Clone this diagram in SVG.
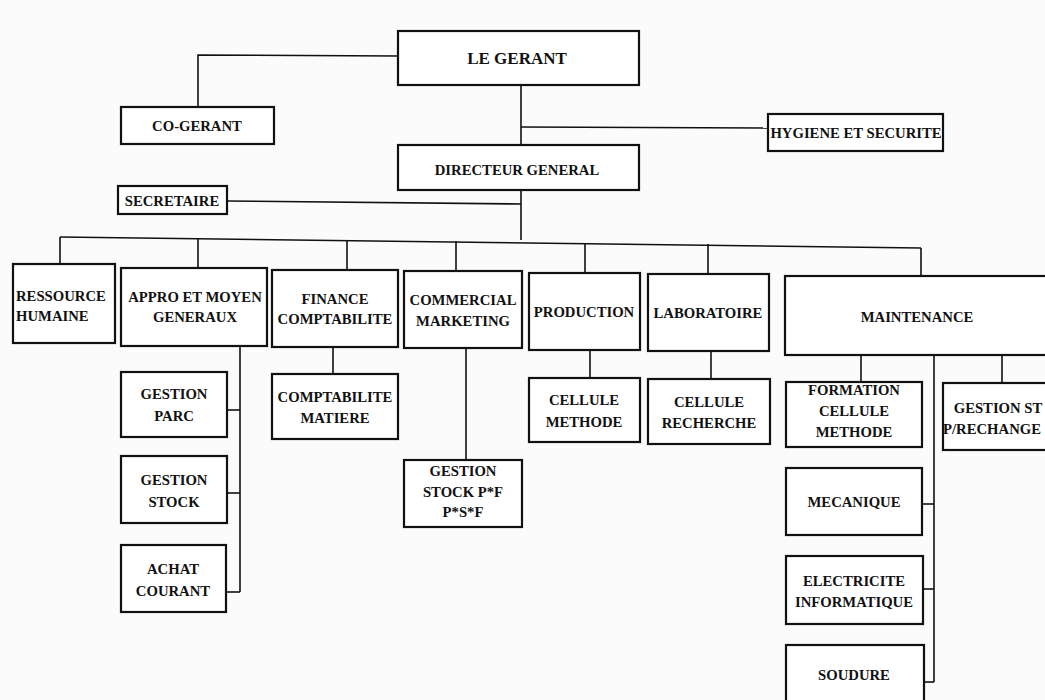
<svg xmlns="http://www.w3.org/2000/svg" width="1045" height="700" viewBox="0 0 1045 700">
  <style>
    .box { fill: #ffffff; stroke: #111; stroke-width: 2.2; }
    .lbl { font-family: "Liberation Serif", "Times New Roman", serif; font-weight: bold; font-size: 14.7px; fill: #111; text-anchor: middle; }
    .left { text-anchor: start; }
    .big { font-size: 17px; }
    .wire { fill: none; stroke: #111; stroke-width: 1.6; }
  </style>
  <rect width="1045" height="700" fill="#fbfbfb"/>

  <!-- connectors -->
  <g id="connectors" class="wire">
    <path d="M398 56 L198 55 L198 107"/>
    <path d="M521 85 L521 145"/>
    <path d="M521 127 L768 128"/>
    <path d="M227 201 L521 204"/>
    <path d="M521 190 L521 240"/>
    <path d="M60 237 L921 248"/>
    <path d="M60 237 L60 264"/>
    <path d="M198 238 L198 268"/>
    <path d="M347 240 L347 270"/>
    <path d="M456 241 L456 271"/>
    <path d="M585 243 L585 273"/>
    <path d="M708 244 L708 274"/>
    <path d="M921 248 L921 276"/>
    <!-- appro -->
    <path d="M240 346 L240 592"/>
    <path d="M227 410 L240 410"/>
    <path d="M227 493 L240 493"/>
    <path d="M226 592 L240 592"/>
    <!-- finance -->
    <path d="M333 347 L333 375"/>
    <!-- commercial -->
    <path d="M466 348 L466 460"/>
    <!-- production / labo -->
    <path d="M590 350 L590 378"/>
    <path d="M711 351 L711 379"/>
    <!-- maintenance -->
    <path d="M861 355 L861 382"/>
    <path d="M934 355 L934 682"/>
    <path d="M1002 355 L1002 383"/>
    <path d="M922 504 L934 504"/>
    <path d="M923 589 L934 589"/>
    <path d="M924 682 L934 682"/>
  </g>

  <g id="le-gerant"><rect class="box" x="398" y="31" width="241" height="54"/><text class="lbl big" x="517" y="64">LE GERANT</text></g>
  <g id="co-gerant"><rect class="box" x="121" y="107" width="153" height="37"/><text class="lbl" x="197" y="131">CO-GERANT</text></g>
  <g id="hygiene"><rect class="box" x="768" y="114" width="175" height="37"/><text class="lbl" x="856" y="138">HYGIENE ET SECURITE</text></g>
  <g id="directeur"><rect class="box" x="398" y="145" width="241" height="45"/><text class="lbl" x="517" y="175">DIRECTEUR GENERAL</text></g>
  <g id="secretaire"><rect class="box" x="118" y="186" width="109" height="28"/><text class="lbl" x="172" y="206">SECRETAIRE</text></g>

  <g id="ressource"><rect class="box" x="13" y="264" width="102" height="79"/><text class="lbl left" x="16" y="301">RESSOURCE</text><text class="lbl left" x="16" y="321">HUMAINE</text></g>
  <g id="appro"><rect class="box" x="121" y="268" width="146" height="78"/><text class="lbl" x="195" y="302">APPRO ET MOYEN</text><text class="lbl" x="195" y="322">GENERAUX</text></g>
  <g id="finance"><rect class="box" x="272" y="270" width="126" height="77"/><text class="lbl" x="335" y="304">FINANCE</text><text class="lbl" x="335" y="324">COMPTABILITE</text></g>
  <g id="commercial"><rect class="box" x="404" y="271" width="118" height="77"/><text class="lbl" x="463" y="305">COMMERCIAL</text><text class="lbl" x="463" y="326">MARKETING</text></g>
  <g id="production"><rect class="box" x="529" y="273" width="111" height="77"/><text class="lbl" x="584" y="317">PRODUCTION</text></g>
  <g id="laboratoire"><rect class="box" x="648" y="274" width="121" height="77"/><text class="lbl" x="708" y="318">LABORATOIRE</text></g>
  <g id="maintenance"><rect class="box" x="785" y="276" width="265" height="79"/><text class="lbl" x="917" y="322">MAINTENANCE</text></g>

  <g id="gestion-parc"><rect class="box" x="121" y="372" width="106" height="65"/><text class="lbl" x="174" y="399">GESTION</text><text class="lbl" x="174" y="421">PARC</text></g>
  <g id="gestion-stock"><rect class="box" x="121" y="456" width="106" height="67"/><text class="lbl" x="174" y="485">GESTION</text><text class="lbl" x="174" y="507">STOCK</text></g>
  <g id="achat-courant"><rect class="box" x="121" y="545" width="105" height="67"/><text class="lbl" x="173" y="574">ACHAT</text><text class="lbl" x="173" y="596">COURANT</text></g>

  <g id="comptabilite-matiere"><rect class="box" x="272" y="374" width="126" height="65"/><text class="lbl" x="335" y="402">COMPTABILITE</text><text class="lbl" x="335" y="423">MATIERE</text></g>
  <g id="gestion-stock-pf"><rect class="box" x="404" y="460" width="118" height="67"/><text class="lbl" x="463" y="476">GESTION</text><text class="lbl" x="463" y="497">STOCK P*F</text><text class="lbl" x="463" y="517">P*S*F</text></g>
  <g id="cellule-methode"><rect class="box" x="529" y="378" width="111" height="64"/><text class="lbl" x="584" y="405">CELLULE</text><text class="lbl" x="584" y="427">METHODE</text></g>
  <g id="cellule-recherche"><rect class="box" x="648" y="379" width="122" height="65"/><text class="lbl" x="709" y="407">CELLULE</text><text class="lbl" x="709" y="428">RECHERCHE</text></g>

  <g id="formation"><rect class="box" x="786" y="382" width="136" height="65"/><text class="lbl" x="854" y="395">FORMATION</text><text class="lbl" x="854" y="416">CELLULE</text><text class="lbl" x="854" y="437">METHODE</text></g>
  <g id="gestion-st"><rect class="box" x="943" y="383" width="107" height="67"/><text class="lbl" x="998" y="413">GESTION ST</text><text class="lbl" x="992" y="434">P/RECHANGE</text></g>
  <g id="mecanique"><rect class="box" x="786" y="468" width="136" height="67"/><text class="lbl" x="854" y="507">MECANIQUE</text></g>
  <g id="electricite"><rect class="box" x="786" y="556" width="137" height="68"/><text class="lbl" x="854" y="586">ELECTRICITE</text><text class="lbl" x="854" y="607">INFORMATIQUE</text></g>
  <g id="soudure"><rect class="box" x="786" y="645" width="138" height="60"/><text class="lbl" x="854" y="680">SOUDURE</text></g>
</svg>
